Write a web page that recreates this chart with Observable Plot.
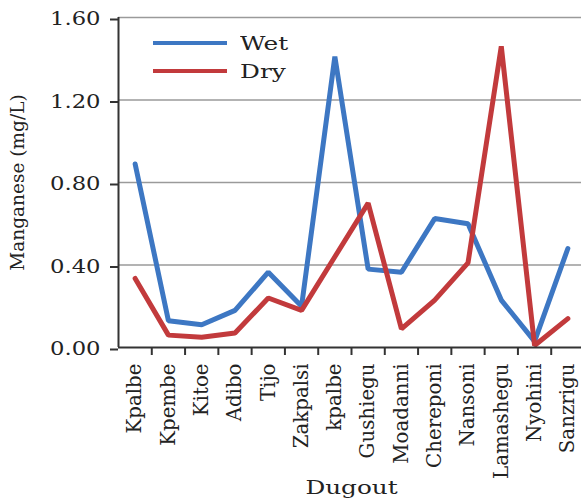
<!DOCTYPE html>
<html>
<head>
<meta charset="utf-8">
<script src="https://cdn.jsdelivr.net/npm/d3@7"></script>
<script src="https://cdn.jsdelivr.net/npm/@observablehq/plot@0.6"></script>
<style>
  html, body { margin: 0; padding: 0; background: #fff; }
  #wrap { position: relative; width: 581px; height: 499px; overflow: hidden; }
  #legend { position: absolute; left: 153px; top: 29px; font-family: "DejaVu Serif", serif; font-size: 18.5px; color: #222; }
  #legend .row { display: flex; align-items: center; height: 28px; }
  #legend .sw { width: 74px; height: 3.5px; margin-right: 13px; }
  #legend .tx { display: inline-block; transform: scaleX(1.34); transform-origin: left center; }
  svg text { font-family: "DejaVu Serif", serif; fill: #222; }
</style>
</head>
<body>
<div id="wrap"></div>
<script>
const categories = ["Kpalbe","Kpembe","Kitoe","Adibo","Tijo","Zakpalsi","kpalbe","Gushiegu","Moadanni","Chereponi","Nansoni","Lamashegu","Nyohini","Sanzrigu"];
const wet = [0.89, 0.13, 0.11, 0.18, 0.365, 0.20, 1.41, 0.38, 0.365, 0.625, 0.60, 0.23, 0.03, 0.48];
const dry = [0.335, 0.06, 0.05, 0.07, 0.24, 0.18, 0.44, 0.70, 0.09, 0.23, 0.41, 1.46, 0.01, 0.14];
const yTicks = [0, 0.4, 0.8, 1.2, 1.6];
const seriesNames = ["Wet", "Dry"];
const colors = ["#3d77c3", "#c23a3c"];

const rows = [];
categories.forEach((c, i) => {
  rows.push({i: i + 0.5, cat: c, series: "Wet", v: wet[i]});
  rows.push({i: i + 0.5, cat: c, series: "Dry", v: dry[i]});
});

const chart = Plot.plot({
  width: 581,
  height: 499,
  marginLeft: 118,
  marginRight: -3,
  marginTop: 17,
  marginBottom: 152,
  style: {fontFamily: "DejaVu Serif, serif", fontSize: "18px", background: "#fff", color: "#222"},
  x: {domain: [0, categories.length]},
  y: {domain: [0, 1.6]},
  color: {domain: seriesNames, range: colors},
  marks: [
    Plot.gridY(yTicks.slice(1), {stroke: "#9a9a9a", strokeOpacity: 1, strokeWidth: 1.5}),
    Plot.line(rows, {x: "i", y: "v", z: "series", stroke: "series", strokeWidth: 5, strokeLinejoin: "miter"}),
    Plot.ruleY([0], {stroke: "#333", strokeWidth: 2}),
    Plot.ruleX([0], {stroke: "#333", strokeWidth: 2}),
    Plot.axisY(yTicks, {tickFormat: d3.format(".2f"), tickSize: 8, tickPadding: 10, dy: 2, stroke: "#333", strokeWidth: 2, fontSize: 18, label: null}),
    Plot.axisY({ticks: [], tickSize: 0, label: "Manganese (mg/L)", labelAnchor: "center", labelOffset: 108, labelArrow: false, fontSize: 18.5}),
    Plot.axisX(d3.range(1, categories.length + 1), {tickFormat: () => "", tickSize: 8, stroke: "#333", strokeWidth: 2, label: null}),
    Plot.axisX(categories.map((c, i) => i + 0.5), {tickFormat: d => categories[Math.floor(d)], tickSize: 0, tickPadding: 16, tickRotate: -90, fontSize: 19.8, label: null}),
    Plot.axisX({ticks: [], tickSize: 0, label: "Dugout", labelAnchor: "center", labelOffset: 146, labelArrow: false, fontSize: 19})
  ]
});
const wrap = document.getElementById("wrap");
wrap.appendChild(chart);

// the reference is stretched horizontally: widen upright text
chart.querySelectorAll("text").forEach(t => {
  const tr = (t.getAttribute("transform") || "") + (t.parentNode.getAttribute("transform") || "");
  if (tr.includes("rotate")) return;
  const len = t.getComputedTextLength();
  if (len > 0) {
    const k = t.textContent === "Dugout" ? 1.3 : 1.26;
    t.setAttribute("textLength", (len * k).toFixed(1));
    t.setAttribute("lengthAdjust", "spacingAndGlyphs");
  }
});

const legend = document.createElement("div");
legend.id = "legend";
seriesNames.forEach((s, k) => {
  const row = document.createElement("div");
  row.className = "row";
  const sw = document.createElement("span");
  sw.className = "sw";
  sw.style.background = colors[k];
  const t = document.createElement("span");
  t.className = "tx";
  t.textContent = s;
  row.appendChild(sw); row.appendChild(t);
  legend.appendChild(row);
});
wrap.appendChild(legend);
</script>
</body>
</html>
